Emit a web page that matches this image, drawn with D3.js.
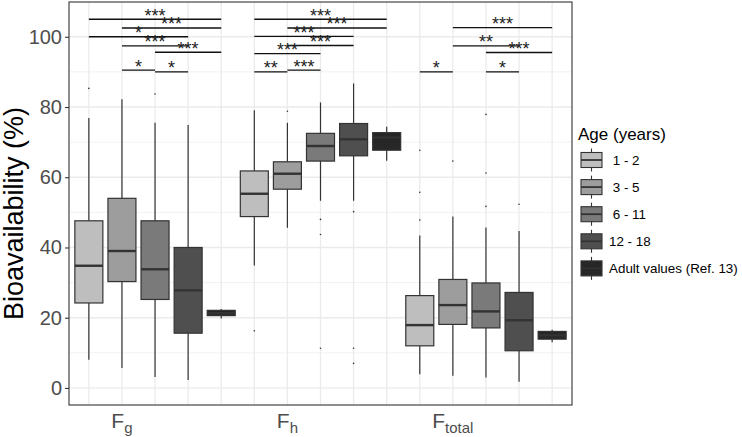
<!DOCTYPE html>
<html>
<head>
<meta charset="utf-8">
<script src="https://cdn.jsdelivr.net/npm/d3@7"></script>
<style>
  body { margin: 0; background: #fff; }
  svg { font-family: "Liberation Sans", Arial, sans-serif; }
</style>
</head>
<body>
<script>
// parameters (Fg, Fh, Ftotal) x age groups
var groups = ["g", "h", "total"];
var ages = [" 1 - 2", " 3 - 5", " 6 - 11", "12 - 18", "Adult values (Ref. 13)"];
var fills = ["#bebebe", "#9d9d9d", "#7a7a7a", "#4f4f4f", "#272727"];

// one value per box, in order Fg (5 ages), Fh (5 ages), Ftotal (5 ages)
var whiskerLow  = [8.0, 5.7, 3.1, 2.3, 19.8,   34.9, 45.6, 53.3, 53.3, 64.7,   3.9, 3.5, 3.0, 1.8, 13.0];
var q1          = [24.2, 30.3, 25.2, 15.6, 20.6,  48.8, 56.6, 64.6, 66.1, 67.7,  12.0, 18.1, 17.1, 10.6, 13.9];
var median      = [34.8, 39.0, 33.8, 27.8, 21.3,  55.3, 61.0, 68.9, 70.8, 71.3,  17.9, 23.6, 21.8, 19.3, 15.0];
var q3          = [47.6, 54.0, 47.6, 40.0, 22.1,  61.8, 64.4, 72.5, 75.3, 72.7,  26.3, 30.9, 29.9, 27.2, 16.1];
var whiskerHigh = [76.9, 82.2, 75.5, 74.9, 22.5,  79.1, 75.5, 81.3, 86.7, 74.4,  43.4, 48.8, 45.7, 44.7, 16.6];
var outliers = [
  [85.3], [], [83.7], [], [],
  [16.3], [78.8], [48.0, 43.7, 11.3], [50.2, 11.3, 7.0], [],
  [67.7, 55.7, 47.8], [64.6], [77.9, 61.2, 51.7], [52.3], []
];

// significance brackets (box positions 1..15)
var sigFrom  = [1, 2, 1, 2, 3, 2, 3,   6, 7, 6, 7, 6, 6, 7,   12, 12, 13, 11, 13];
var sigTo    = [5, 5, 4, 4, 5, 3, 4,   10, 10, 9, 9, 8, 7, 8,  15, 14, 15, 12, 14];
var sigY     = [105.0, 102.5, 100.0, 97.4, 95.6, 90.5, 90.0,
                105.0, 102.5, 100.1, 97.5, 95.2, 90.0, 90.5,
                102.6, 97.4, 95.5, 90.0, 90.0];
var sigLabel = ["***", "***", "*", "***", "***", "*", "*",
                "***", "***", "***", "***", "***", "**", "***",
                "***", "**", "***", "*", "*"];

var yTicks = [0, 20, 40, 60, 80, 100];
var yMinor = [10, 30, 50, 70, 90];

var width = 742, height = 437;
var panel = {left: 69, right: 572, top: 2, bottom: 405};

var svg = d3.select("body").append("svg")
    .attr("width", width)
    .attr("height", height);

var x = d3.scaleLinear().domain([0.4, 15.6]).range([panel.left, panel.right]);
var y = d3.scaleLinear().domain([-4.85, 109.9]).range([panel.bottom, panel.top]);

var positions = d3.range(1, 16);

// grid
var grid = svg.append("g");
grid.selectAll(".minor").data(yMinor).enter().append("line")
    .attr("x1", panel.left).attr("x2", panel.right)
    .attr("y1", d => y(d)).attr("y2", d => y(d))
    .attr("stroke", "#ebebeb").attr("stroke-width", 0.7);
grid.selectAll(".major").data(yTicks).enter().append("line")
    .attr("x1", panel.left).attr("x2", panel.right)
    .attr("y1", d => y(d)).attr("y2", d => y(d))
    .attr("stroke", "#ebebeb").attr("stroke-width", 1.3);
grid.selectAll(".vert").data(positions).enter().append("line")
    .attr("x1", d => x(d)).attr("x2", d => x(d))
    .attr("y1", panel.top).attr("y2", panel.bottom)
    .attr("stroke", "#ebebeb").attr("stroke-width", 1.3);

// boxes
var boxW = 28;
var boxes = svg.append("g").selectAll("g").data(positions).enter().append("g");
boxes.append("line")
    .attr("x1", d => x(d)).attr("x2", d => x(d))
    .attr("y1", (d, i) => y(whiskerHigh[i])).attr("y2", (d, i) => y(q3[i]))
    .attr("stroke", "#333").attr("stroke-width", 1.2);
boxes.append("line")
    .attr("x1", d => x(d)).attr("x2", d => x(d))
    .attr("y1", (d, i) => y(q1[i])).attr("y2", (d, i) => y(whiskerLow[i]))
    .attr("stroke", "#333").attr("stroke-width", 1.2);
boxes.append("rect")
    .attr("x", d => x(d) - boxW / 2)
    .attr("width", boxW)
    .attr("y", (d, i) => y(q3[i]))
    .attr("height", (d, i) => y(q1[i]) - y(q3[i]))
    .attr("fill", (d, i) => fills[i % 5])
    .attr("stroke", "#333").attr("stroke-width", 1.2);
boxes.append("line")
    .attr("x1", d => x(d) - boxW / 2).attr("x2", d => x(d) + boxW / 2)
    .attr("y1", (d, i) => y(median[i])).attr("y2", (d, i) => y(median[i]))
    .attr("stroke", "#333").attr("stroke-width", 2.4);
boxes.selectAll("circle").data((d, i) => outliers[i].map(v => [d, v])).enter().append("circle")
    .attr("cx", d => x(d[0])).attr("cy", d => y(d[1]))
    .attr("r", 0.8).attr("fill", "#333");

// significance brackets
var sig = svg.append("g").selectAll("g").data(sigLabel).enter().append("g");
sig.append("line")
    .attr("x1", (d, i) => x(sigFrom[i])).attr("x2", (d, i) => x(sigTo[i]))
    .attr("y1", (d, i) => y(sigY[i])).attr("y2", (d, i) => y(sigY[i]))
    .attr("stroke", "#111").attr("stroke-width", 1.4);
sig.append("text")
    .attr("x", (d, i) => (x(sigFrom[i]) + x(sigTo[i])) / 2)
    .attr("y", (d, i) => y(sigY[i]) + 2.5)
    .attr("text-anchor", "middle")
    .attr("font-size", 18)
    .attr("fill", "#222")
    .text(d => d);

// panel border
svg.append("rect")
    .attr("x", panel.left).attr("y", panel.top)
    .attr("width", panel.right - panel.left).attr("height", panel.bottom - panel.top)
    .attr("fill", "none").attr("stroke", "#333").attr("stroke-width", 1.1);

// y axis
var yAxis = svg.append("g")
    .attr("transform", "translate(" + panel.left + ",0)")
    .call(d3.axisLeft(y).tickValues(yTicks).tickSize(4).tickPadding(3));
yAxis.select(".domain").remove();
yAxis.selectAll(".tick line").attr("stroke", "#333").attr("stroke-width", 1.1);
yAxis.selectAll(".tick text")
    .attr("font-size", 20).attr("fill", "#4d4d4d")
    .attr("font-family", "Liberation Sans, Arial, sans-serif");

svg.append("text")
    .attr("transform", "translate(23," + ((panel.top + panel.bottom) / 2 + 10) + ") rotate(-90)")
    .attr("text-anchor", "middle")
    .attr("font-size", 27)
    .attr("fill", "#000")
    .text("Bioavailability (%)");

// x labels, F with subscript, centred on the 2nd box of each group
var xLab = svg.append("g").selectAll("text").data(groups).enter().append("text")
    .attr("x", (d, i) => x(i * 5 + 2))
    .attr("y", 428)
    .attr("text-anchor", "middle")
    .attr("font-size", 21)
    .attr("fill", "#4d4d4d");
xLab.append("tspan").text("F");
xLab.append("tspan").attr("font-size", 15).attr("dy", 5).text(d => d);

// legend
var legend = svg.append("g");
legend.append("text")
    .attr("x", 578).attr("y", 140)
    .attr("font-size", 17)
    .text("Age (years)");
var keys = legend.selectAll(".key").data(ages).enter().append("g")
    .attr("transform", (d, i) => "translate(591.5," + (160 + i * 27.1) + ")");
keys.append("line")
    .attr("y1", -11.5).attr("y2", 11.5)
    .attr("stroke", "#333").attr("stroke-width", 1.1);
keys.append("rect")
    .attr("x", -10.5).attr("y", -7.5).attr("width", 21).attr("height", 15)
    .attr("fill", (d, i) => fills[i])
    .attr("stroke", "#333").attr("stroke-width", 1.1);
keys.append("line")
    .attr("x1", -10.5).attr("x2", 10.5)
    .attr("stroke", "#333").attr("stroke-width", 1.8);
keys.append("text")
    .attr("x", 17.5).attr("y", 5)
    .attr("font-size", 13.4)
    .style("white-space", "pre")
    .text(d => d);
</script>
</body>
</html>
